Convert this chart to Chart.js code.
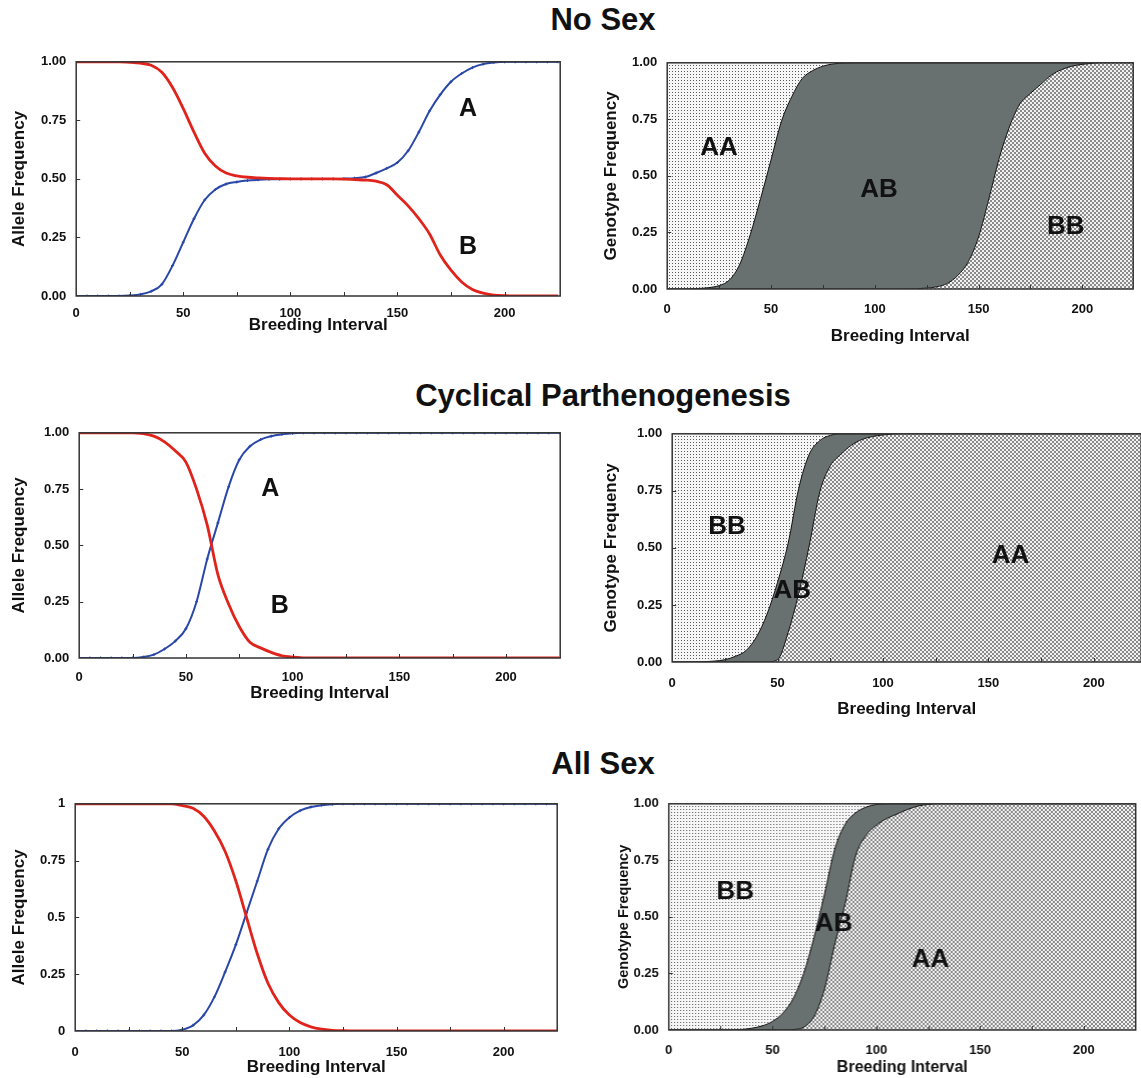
<!DOCTYPE html>
<html>
<head>
<meta charset="utf-8">
<script src="https://cdn.jsdelivr.net/npm/chart.js@4.4.1/dist/chart.umd.min.js"></script>
<style>
  html, body { margin: 0; padding: 0; background: #fff; }
  body { width: 1141px; height: 1078px; position: relative; overflow: hidden; font-family: "Liberation Sans", Arial, sans-serif; }
  .box { position: absolute; }
  .title { position: absolute; font-weight: bold; font-size: 31px; color: #111; text-align: center; white-space: nowrap; transform: translateX(-50%); }
</style>
</head>
<body>
<div class="title" style="left:603px; top:2px;">No Sex</div>
<div class="title" style="left:603px; top:378px;">Cyclical Parthenogenesis</div>
<div class="title" style="left:603px; top:746px;">All Sex</div>

<div class="box" id="b1"><canvas id="c1"></canvas></div>
<div class="box" id="b2"><canvas id="c2"></canvas></div>
<div class="box" id="b3"><canvas id="c3"></canvas></div>
<div class="box" id="b4"><canvas id="c4"></canvas></div>
<div class="box" id="b5"><canvas id="c5"></canvas></div>
<div class="box" id="b6"><canvas id="c6"></canvas></div>

<script>
// ---------- DATA ----------
const breedingInterval = [0,5,10,15,20,25,30,35,40,45,50,55,60,65,70,75,80,85,90,95,100,105,110,115,120,125,130,135,140,145,150,155,160,165,170,175,180,185,190,195,200,205,210,215,220,225];

const xTickLabels = [0, 50, 100, 150, 200];
const xMinorTicks = [25, 50, 75, 100, 125, 150, 175, 200];
const yTickValues = [0, 0.25, 0.5, 0.75, 1];
const yTicksFixed = ["0.00", "0.25", "0.50", "0.75", "1.00"];
const yTicksShort = ["0", "0.25", "0.5", "0.75", "1"];

// No Sex - allele frequencies
const noSexAlleleB = [1,1,1,1,1,0.998,0.994,0.985,0.955,0.89,0.80,0.70,0.61,0.555,0.525,0.513,0.507,0.504,0.502,0.501,0.5,0.5,0.5,0.5,0.5,0.499,0.497,0.495,0.49,0.475,0.43,0.385,0.33,0.265,0.175,0.11,0.06,0.028,0.012,0.004,0.001,0,0,0,0,0];
const noSexAlleleA = [0,0,0,0,0,0.002,0.007,0.02,0.05,0.13,0.23,0.33,0.41,0.455,0.478,0.487,0.493,0.496,0.498,0.499,0.5,0.5,0.5,0.5,0.5,0.501,0.503,0.508,0.525,0.545,0.57,0.62,0.70,0.79,0.86,0.915,0.95,0.975,0.99,0.997,1,1,1,1,1,1];

// No Sex - genotype frequencies (stack: bottom -> top)
const noSexBB = [0,0,0,0,0,0,0,0,0,0,0,0,0,0,0,0,0,0,0,0,0,0,0,0,0.001,0.004,0.01,0.025,0.06,0.12,0.23,0.40,0.58,0.72,0.82,0.865,0.905,0.945,0.97,0.985,0.993,0.998,1,1,1,1];
const noSexAB = [0,0,0,0.002,0.006,0.015,0.04,0.11,0.24,0.40,0.57,0.74,0.85,0.93,0.965,0.985,0.995,0.999,1,1,1,1,1,1,0.999,0.996,0.99,0.975,0.94,0.88,0.77,0.60,0.42,0.28,0.18,0.135,0.095,0.055,0.03,0.015,0.007,0.002,0,0,0,0];
const noSexAA = [1,1,1,0.998,0.994,0.985,0.96,0.89,0.76,0.60,0.43,0.26,0.15,0.07,0.035,0.015,0.005,0.001,0,0,0,0,0,0,0,0,0,0,0,0,0,0,0,0,0,0,0,0,0,0,0,0,0,0,0,0];

// Cyclical parthenogenesis - allele frequencies
const cpAlleleB = [1,1,1,1,1,1,0.996,0.985,0.96,0.92,0.87,0.75,0.59,0.37,0.24,0.14,0.07,0.045,0.025,0.01,0.004,0.001,0,0,0,0,0,0,0,0,0,0,0,0,0,0,0,0,0,0,0,0,0,0,0,0];
const cpAlleleA = [0,0,0,0,0,0,0.004,0.015,0.04,0.075,0.13,0.25,0.44,0.60,0.76,0.88,0.94,0.97,0.985,0.993,0.998,1,1,1,1,1,1,1,1,1,1,1,1,1,1,1,1,1,1,1,1,1,1,1,1,1];

// Cyclical parthenogenesis - genotype frequencies (stack: bottom -> top)
const cpAA = [0,0,0,0,0,0,0,0,0,0,0.01,0.13,0.30,0.51,0.745,0.86,0.91,0.95,0.975,0.988,0.995,0.999,1,1,1,1,1,1,1,1,1,1,1,1,1,1,1,1,1,1,1,1,1,1,1,1];
const cpAB = [0,0,0,0.001,0.004,0.01,0.025,0.05,0.11,0.21,0.34,0.39,0.46,0.40,0.225,0.133,0.09,0.05,0.025,0.012,0.005,0.001,0,0,0,0,0,0,0,0,0,0,0,0,0,0,0,0,0,0,0,0,0,0,0,0];
const cpBB = [1,1,1,0.999,0.996,0.99,0.975,0.95,0.89,0.79,0.65,0.48,0.24,0.09,0.03,0.007,0,0,0,0,0,0,0,0,0,0,0,0,0,0,0,0,0,0,0,0,0,0,0,0,0,0,0,0,0,0];

// All sex - allele frequencies
const allSexAlleleB = [1,1,1,1,1,1,1,1,1,1,0.992,0.98,0.945,0.88,0.79,0.66,0.50,0.34,0.21,0.125,0.07,0.037,0.018,0.008,0.003,0.001,0,0,0,0,0,0,0,0,0,0,0,0,0,0,0,0,0,0,0,0];
const allSexAlleleA = [0,0,0,0,0,0,0,0,0,0,0.006,0.025,0.07,0.15,0.26,0.38,0.52,0.66,0.80,0.89,0.94,0.97,0.986,0.994,0.998,1,1,1,1,1,1,1,1,1,1,1,1,1,1,1,1,1,1,1,1,1];

// All sex - genotype frequencies (stack: bottom -> top)
const allSexAA = [0,0,0,0,0,0,0,0,0,0,0,0,0.002,0.012,0.06,0.18,0.38,0.56,0.77,0.86,0.905,0.935,0.955,0.975,0.99,0.997,1,1,1,1,1,1,1,1,1,1,1,1,1,1,1,1,1,1,1,1];
const allSexAB = [0,0,0,0,0,0,0,0.002,0.008,0.018,0.038,0.075,0.138,0.238,0.35,0.42,0.42,0.35,0.19,0.125,0.092,0.065,0.045,0.025,0.01,0.003,0,0,0,0,0,0,0,0,0,0,0,0,0,0,0,0,0,0,0,0];
const allSexBB = [1,1,1,1,1,1,1,0.998,0.992,0.982,0.962,0.925,0.86,0.75,0.59,0.40,0.20,0.09,0.04,0.015,0.003,0,0,0,0,0,0,0,0,0,0,0,0,0,0,0,0,0,0,0,0,0,0,0,0,0];

// ---------- STYLE HELPERS ----------
const FONT = '"Liberation Sans", Arial, sans-serif';
const RED = '#e0231b';
const BLUE = '#2a47a8';
const AB_GRAY = '#687170';

function dotPattern() {
  const c = document.createElement('canvas');
  c.width = 3; c.height = 3;
  const g = c.getContext('2d');
  g.fillStyle = '#f6f6f6'; g.fillRect(0,0,3,3);
  g.fillStyle = '#5a5a5a'; g.fillRect(1,1,1,1);
  return g.createPattern(c, 'repeat');
}
function crossPattern() {
  const c = document.createElement('canvas');
  c.width = 4; c.height = 4;
  const g = c.getContext('2d');
  g.fillStyle = '#f2f2f2'; g.fillRect(0,0,4,4);
  g.fillStyle = '#8a8a8a';
  [[0,0],[1,1],[2,2],[3,3],[3,0],[2,1],[1,2],[0,3]].forEach(p => g.fillRect(p[0], p[1], 1, 1));
  return g.createPattern(c, 'repeat');
}

// text labels plugin (labels placed in data coordinates)
const labelPlugin = {
  id: 'inlabels',
  afterDatasetsDraw(chart, args, opts) {
    const { ctx, scales } = chart;
    ctx.save();
    ctx.font = 'bold ' + (opts.size || 24) + 'px ' + FONT;
    ctx.fillStyle = '#111';
    ctx.textAlign = 'center';
    ctx.textBaseline = 'middle';
    (opts.items || []).forEach(it => {
      ctx.fillText(it.t, scales.x.getPixelForValue(it.x), scales.y.getPixelForValue(it.y));
    });
    ctx.restore();
  }
};

// plot border + inward tick marks
const borderPlugin = {
  id: 'plotBorder',
  afterDraw(chart) {
    const { ctx, chartArea: a, scales } = chart;
    ctx.save();
    ctx.strokeStyle = '#333';
    ctx.lineWidth = 1;
    ctx.beginPath();
    xMinorTicks.forEach(v => {
      const px = Math.round(scales.x.getPixelForValue(v)) + 0.5;
      ctx.moveTo(px, a.bottom); ctx.lineTo(px, a.bottom - 4);
    });
    [0.25, 0.5, 0.75].forEach(v => {
      const py = Math.round(scales.y.getPixelForValue(v)) + 0.5;
      ctx.moveTo(a.left, py); ctx.lineTo(a.left + 4, py);
    });
    ctx.stroke();
    ctx.lineWidth = 1.5;
    ctx.strokeRect(a.left, a.top, a.right - a.left, a.bottom - a.top);
    ctx.restore();
  }
};

const PAD_TOP = 8, PAD_RIGHT = 4;

function setup(id, plot, o) {
  const yLH = o.yTitleSize * 1.2, xLH = o.xTitleSize * 1.2;
  o.yW = plot.L - (o.yTitleX - yLH / 2 - 2);
  o.yTitlePad = 2;
  o.xH = Math.round(o.xTitleY - plot.B + xLH / 2);
  o.xTickPad = Math.max(0, o.xTickY - plot.B - 4 - o.tickSize * 0.6);
  const box = document.getElementById(id);
  box.style.left = (plot.L - o.yW) + 'px';
  box.style.top = (plot.T - PAD_TOP) + 'px';
  box.style.width = ((plot.R - plot.L) + o.yW + PAD_RIGHT) + 'px';
  box.style.height = ((plot.B - plot.T) + o.xH + PAD_TOP) + 'px';
}

function makeScales(o) {
  return {
    x: {
      type: 'linear', min: 0, max: o.xMax,
      afterFit: s => { s.height = o.xH; },
      afterBuildTicks: s => { s.ticks = xTickLabels.map(v => ({ value: v })); },
      border: { display: false },
      grid: { drawOnChartArea: false, drawTicks: true, tickLength: 4, color: 'rgba(0,0,0,0)' },
      ticks: { color: '#111', font: { family: FONT, weight: 'bold', size: o.tickSize }, padding: o.xTickPad, maxRotation: 0, autoSkip: false },
      title: { display: true, text: 'Breeding Interval', color: '#111', font: { family: FONT, weight: 'bold', size: o.xTitleSize }, padding: { top: 0, bottom: 0 } }
    },
    y: {
      type: 'linear', min: 0, max: 1,
      afterFit: s => { s.width = o.yW; },
      afterBuildTicks: s => { s.ticks = yTickValues.map(v => ({ value: v })); },
      border: { display: false },
      grid: { drawOnChartArea: false, drawTicks: true, tickLength: 4, color: 'rgba(0,0,0,0)' },
      ticks: { color: '#111', font: { family: FONT, weight: 'bold', size: o.tickSize }, padding: 6,
        callback: (v) => o.yLabels[yTickValues.indexOf(v)] },
      title: { display: true, text: o.yTitle, color: '#111', font: { family: FONT, weight: 'bold', size: o.yTitleSize }, padding: { top: o.yTitlePad, bottom: 0 } }
    }
  };
}

function alleleChart(canvasId, boxId, plot, red, blue, o) {
  setup(boxId, plot, o);
  const mk = (arr) => breedingInterval.map((x, i) => ({ x, y: arr[i] }));
  return new Chart(document.getElementById(canvasId), {
    type: 'line',
    data: {
      datasets: [
        { label: 'B', data: mk(red), borderColor: RED, borderWidth: 2.8, pointRadius: 0, cubicInterpolationMode: 'monotone', fill: false },
        { label: 'A', data: mk(blue), borderColor: BLUE, borderWidth: 2, pointRadius: 1.5, pointStyle: 'cross', pointBorderColor: BLUE, pointBorderWidth: 1, cubicInterpolationMode: 'monotone', fill: false }
      ]
    },
    options: {
      responsive: true, maintainAspectRatio: false, animation: false,
      layout: { padding: { top: PAD_TOP, right: PAD_RIGHT, left: 0, bottom: 0 } },
      plugins: { legend: { display: false }, tooltip: { enabled: false }, inlabels: { items: o.labels || [], size: 25 } },
      scales: makeScales(o)
    },
    plugins: [labelPlugin, borderPlugin]
  });
}

function genotypeChart(canvasId, boxId, plot, bottom, middle, top, o) {
  setup(boxId, plot, o);
  const mk = (arr) => breedingInterval.map((x, i) => ({ x, y: arr[i] }));
  const scales = makeScales(o);
  scales.y.stacked = true;
  return new Chart(document.getElementById(canvasId), {
    type: 'line',
    data: {
      datasets: [
        { label: o.names[0], data: mk(bottom), backgroundColor: crossPattern(), borderColor: '#111', borderWidth: 1, pointRadius: 0, cubicInterpolationMode: 'monotone', fill: 'origin', stack: 's' },
        { label: 'AB', data: mk(middle), backgroundColor: AB_GRAY, borderColor: '#111', borderWidth: 1, pointRadius: 0, cubicInterpolationMode: 'monotone', fill: '-1', stack: 's' },
        { label: o.names[2], data: mk(top), backgroundColor: dotPattern(), borderColor: 'rgba(0,0,0,0)', borderWidth: 0, pointRadius: 0, cubicInterpolationMode: 'monotone', fill: '-1', stack: 's' }
      ]
    },
    options: {
      responsive: true, maintainAspectRatio: false, animation: false,
      layout: { padding: { top: PAD_TOP, right: PAD_RIGHT, left: 0, bottom: 0 } },
      plugins: { legend: { display: false }, tooltip: { enabled: false }, filler: { propagate: false }, inlabels: { items: o.labels || [], size: 26 } },
      scales
    },
    plugins: [labelPlugin, borderPlugin]
  });
}

// ---------- CHARTS ----------
alleleChart('c1', 'b1', { L: 76, R: 561, T: 56, B: 296 }, noSexAlleleB, noSexAlleleA, {
  xMax: 226, tickSize: 13, xTitleSize: 17, yTitleSize: 17, yTitleX: 19, xTickY: 313, xTitleY: 326,
  yTitle: 'Allele Frequency', yLabels: yTicksFixed,
  labels: [{ t: 'A', x: 183, y: 0.8 }, { t: 'B', x: 183, y: 0.21 }]
});

genotypeChart('c2', 'b2', { L: 667, R: 1133, T: 57, B: 289 }, noSexBB, noSexAB, noSexAA, {
  xMax: 224.5, tickSize: 13, xTitleSize: 17, yTitleSize: 17, yTitleX: 611, xTickY: 309, xTitleY: 337,
  yTitle: 'Genotype Frequency', yLabels: yTicksFixed, names: ['BB', 'AB', 'AA'],
  labels: [{ t: 'AA', x: 25, y: 0.625 }, { t: 'AB', x: 102, y: 0.44 }, { t: 'BB', x: 192, y: 0.276 }]
});

alleleChart('c3', 'b3', { L: 79, R: 561, T: 427, B: 658 }, cpAlleleB, cpAlleleA, {
  xMax: 225.4, tickSize: 13, xTitleSize: 17, yTitleSize: 17, yTitleX: 19, xTickY: 677, xTitleY: 694,
  yTitle: 'Allele Frequency', yLabels: yTicksFixed,
  labels: [{ t: 'A', x: 89.5, y: 0.75 }, { t: 'B', x: 94, y: 0.23 }]
});

genotypeChart('c4', 'b4', { L: 672, R: 1141, T: 428, B: 662 }, cpAA, cpAB, cpBB, {
  xMax: 222.5, tickSize: 13, xTitleSize: 17, yTitleSize: 17, yTitleX: 611, xTickY: 683, xTitleY: 710,
  yTitle: 'Genotype Frequency', yLabels: yTicksFixed, names: ['AA', 'AB', 'BB'],
  labels: [{ t: 'BB', x: 26, y: 0.594 }, { t: 'AB', x: 57, y: 0.31 }, { t: 'AA', x: 160.5, y: 0.466 }]
});

alleleChart('c5', 'b5', { L: 75, R: 558, T: 798, B: 1031 }, allSexAlleleB, allSexAlleleA, {
  xMax: 225, tickSize: 13, xTitleSize: 17, yTitleSize: 17, yTitleX: 19, xTickY: 1052, xTitleY: 1068,
  yTitle: 'Allele Frequency', yLabels: yTicksShort, labels: []
});

genotypeChart('c6', 'b6', { L: 669, R: 1135, T: 798, B: 1030 }, allSexAA, allSexAB, allSexBB, {
  xMax: 225, tickSize: 13, xTitleSize: 16, yTitleSize: 14.5, yTitleX: 624, xTickY: 1050, xTitleY: 1067,
  yTitle: 'Genotype Frequency', yLabels: yTicksFixed, names: ['AA', 'AB', 'BB'],
  labels: [{ t: 'BB', x: 32, y: 0.61 }, { t: 'AB', x: 79.5, y: 0.47 }, { t: 'AA', x: 126, y: 0.31 }]
});
</script>
</body>
</html>
